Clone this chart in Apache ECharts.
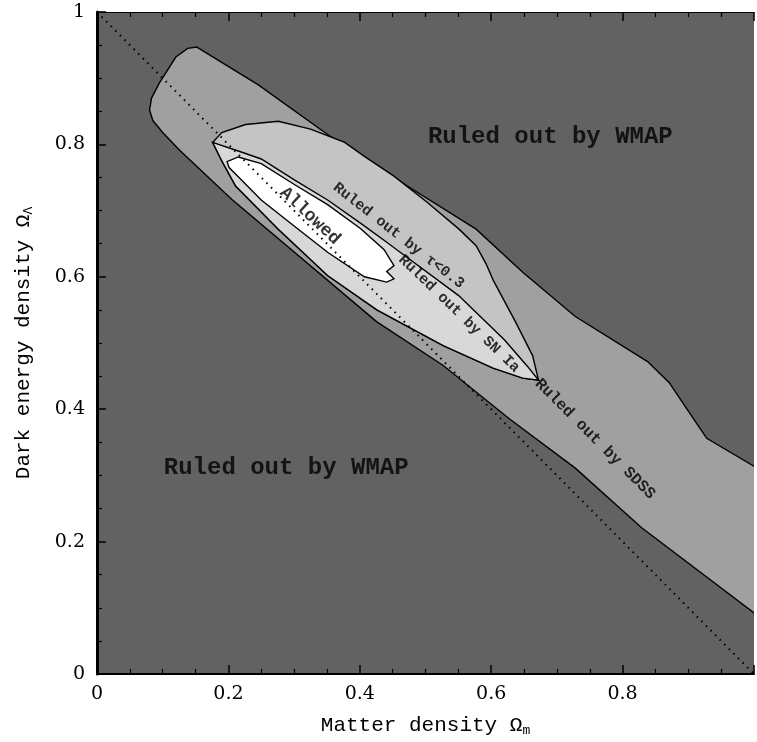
<!DOCTYPE html>
<html>
<head>
<meta charset="utf-8">
<script src="https://cdn.jsdelivr.net/npm/echarts@6/dist/echarts.min.js"></script>
<style>
  html, body { margin: 0; padding: 0; background: #fff; }
  #chart { width: 757px; height: 742px; }
</style>
</head>
<body>
<div id="chart"></div>
<script>
// Axis tick labels
const xTickLabels = ['0', '0.2', '0.4', '0.6', '0.8', ''];
const yTickLabels = ['0', '0.2', '0.4', '0.6', '0.8', '1'];

// Region allowed by WMAP (the light band), [Omega_m, Omega_Lambda]
const wmapBand = [
  [0.152, 0.947], [0.2456, 0.890], [0.351, 0.815], [0.4565, 0.747],
  [0.577, 0.672], [0.648, 0.607], [0.728, 0.540], [0.838, 0.472],
  [0.871, 0.440], [0.898, 0.400], [0.928, 0.356], [1.01, 0.308],
  [1.01, 0.085], [0.829, 0.221], [0.728, 0.311], [0.627, 0.386],
  [0.527, 0.466], [0.426, 0.532], [0.205, 0.717], [0.125, 0.792],
  [0.1, 0.818], [0.085, 0.836], [0.08, 0.852], [0.083, 0.870],
  [0.095, 0.893], [0.12, 0.932], [0.138, 0.945]
];

// Region allowed by SDSS (outer contour of the tau / SN Ia zones)
const sdssRegion = [
  [0.176, 0.803], [0.19, 0.818], [0.226, 0.830], [0.276, 0.835],
  [0.325, 0.823], [0.377, 0.803], [0.407, 0.782], [0.452, 0.752],
  [0.502, 0.713], [0.551, 0.672], [0.577, 0.647], [0.592, 0.62],
  [0.603, 0.595], [0.637, 0.532], [0.663, 0.481], [0.672, 0.444],
  [0.648, 0.447], [0.603, 0.462], [0.527, 0.496], [0.426, 0.55],
  [0.351, 0.602], [0.276, 0.672], [0.211, 0.737], [0.19, 0.775]
];

// Region allowed by tau < 0.3 (below the middle contour)
const tauRegion = [
  [0.176, 0.803], [0.215, 0.79], [0.25, 0.778], [0.301, 0.746],
  [0.351, 0.716], [0.401, 0.681], [0.44, 0.653], [0.467, 0.633],
  [0.55, 0.572], [0.62, 0.505], [0.655, 0.465], [0.672, 0.444],
  [0.648, 0.447], [0.603, 0.462], [0.527, 0.496], [0.426, 0.55],
  [0.351, 0.602], [0.276, 0.672], [0.211, 0.737], [0.19, 0.775]
];

// Jointly allowed region
const allowedRegion = [
  [0.198, 0.774], [0.215, 0.781], [0.25, 0.771], [0.301, 0.739],
  [0.351, 0.709], [0.401, 0.673], [0.437, 0.641], [0.452, 0.617],
  [0.441, 0.608], [0.452, 0.597], [0.441, 0.592], [0.407, 0.600],
  [0.351, 0.637], [0.301, 0.676], [0.25, 0.716], [0.215, 0.751],
  [0.201, 0.765]
];

// Flat universe: Omega_m + Omega_Lambda = 1
const flatLine = [[0, 1], [1, 0]];

// Region captions
const captionText = ['Ruled out by WMAP', 'Ruled out by WMAP', 'Allowed',
  'Ruled out by \u03c4<0.3', 'Ruled out by SN Ia', 'Ruled out by SDSS'];
const captionX = [0.69, 0.288, 0.324, 0.459, 0.551, 0.758];
const captionY = [0.812, 0.311, 0.692, 0.662, 0.544, 0.355];
const captionAngle = [0, 0, -43, -38, -44, -45];

const chart = echarts.init(document.getElementById('chart'), null, { renderer: 'canvas' });

const tickFont = 'DejaVu Serif';
const textFont = 'Liberation Mono';

function regionSeries(points, fill, z) {
  return {
    type: 'custom',
    coordinateSystem: 'cartesian2d',
    clip: true,
    silent: true,
    z: z,
    data: [[0, 0]],
    renderItem: function (params, api) {
      return {
        type: 'polygon',
        shape: { points: points.map(function (p) { return api.coord(p); }) },
        style: { fill: fill, stroke: '#000', lineWidth: 1.4 }
      };
    }
  };
}

const captionSizes = [24, 24, 18, 15, 15, 16];

const axisCommon = {
  type: 'value', min: 0, max: 1, interval: 0.2,
  splitLine: { show: false },
  axisLine: { show: true, onZero: false, lineStyle: { color: '#000', width: 2 } },
  axisTick: { show: true, inside: true, length: 9, lineStyle: { color: '#000', width: 1.5 } },
  minorTick: { show: true, splitNumber: 4, length: 5, lineStyle: { color: '#000', width: 1.2 } }
};

const option = {
  animation: false,
  backgroundColor: '#fff',
  grid: {
    left: 97, top: 12, width: 664, height: 665,
    show: true, backgroundColor: '#626262', borderWidth: 0
  },
  xAxis: [
    Object.assign({}, axisCommon, {
      position: 'bottom',
      name: 'Matter density {o|\u03a9}{s|m}',
      nameLocation: 'middle',
      nameGap: 40,
      nameTextStyle: {
        fontFamily: textFont, fontSize: 21, color: '#000',
        rich: {
          o: { fontFamily: textFont, fontSize: 21, color: '#000' },
          s: { fontFamily: textFont, fontSize: 13, color: '#000', verticalAlign: 'bottom', padding: [10, 0, 0, 0] }
        }
      },
      axisLabel: {
        fontFamily: tickFont, fontSize: 19, color: '#000', margin: 11,
        formatter: function (v) { return xTickLabels[Math.round(v / 0.2)]; }
      }
    }),
    Object.assign({}, axisCommon, {
      position: 'top',
      axisLine: { show: true, onZero: false, lineStyle: { color: '#000', width: 1 } },
      axisLabel: { show: false }
    })
  ],
  yAxis: [
    Object.assign({}, axisCommon, {
      position: 'left',
      name: 'Dark energy density {o|\u03a9}{s|\u039b}',
      nameLocation: 'middle',
      nameRotate: 90,
      nameGap: 62,
      nameTextStyle: {
        fontFamily: textFont, fontSize: 21, color: '#000',
        rich: {
          o: { fontFamily: textFont, fontSize: 21, color: '#000' },
          s: { fontFamily: textFont, fontSize: 13, color: '#000', verticalAlign: 'bottom', padding: [10, 0, 0, 0] }
        }
      },
      axisLine: { show: true, onZero: false, lineStyle: { color: '#000', width: 3 } },
      axisLabel: {
        fontFamily: tickFont, fontSize: 19, color: '#000', margin: 12,
        formatter: function (v) { return yTickLabels[Math.round(v / 0.2)]; }
      }
    })
  ],
  series: [
    regionSeries(wmapBand, '#a0a0a0', 2),
    regionSeries(sdssRegion, '#c4c4c4', 3),
    regionSeries(tauRegion, '#d8d8d8', 4),
    regionSeries(allowedRegion, '#ffffff', 5),
    {
      type: 'line',
      data: flatLine,
      z: 6,
      silent: true,
      symbol: 'none',
      clip: true,
      lineStyle: { color: '#000', width: 2, type: [1.5, 5] }
    },
    {
      type: 'scatter',
      z: 7,
      silent: true,
      symbolSize: 0,
      data: captionText.map(function (t, i) {
        return {
          name: t,
          value: [captionX[i], captionY[i]],
          label: { rotate: captionAngle[i], fontSize: captionSizes[i] }
        };
      }),
      label: {
        show: true,
        position: 'inside',
        formatter: function (p) { return p.name; },
        fontFamily: textFont,
        fontWeight: 'bold',
        color: '#000',
        align: 'center',
        verticalAlign: 'middle'
      }
    }
  ]
};

chart.setOption(option);
</script>
</body>
</html>
